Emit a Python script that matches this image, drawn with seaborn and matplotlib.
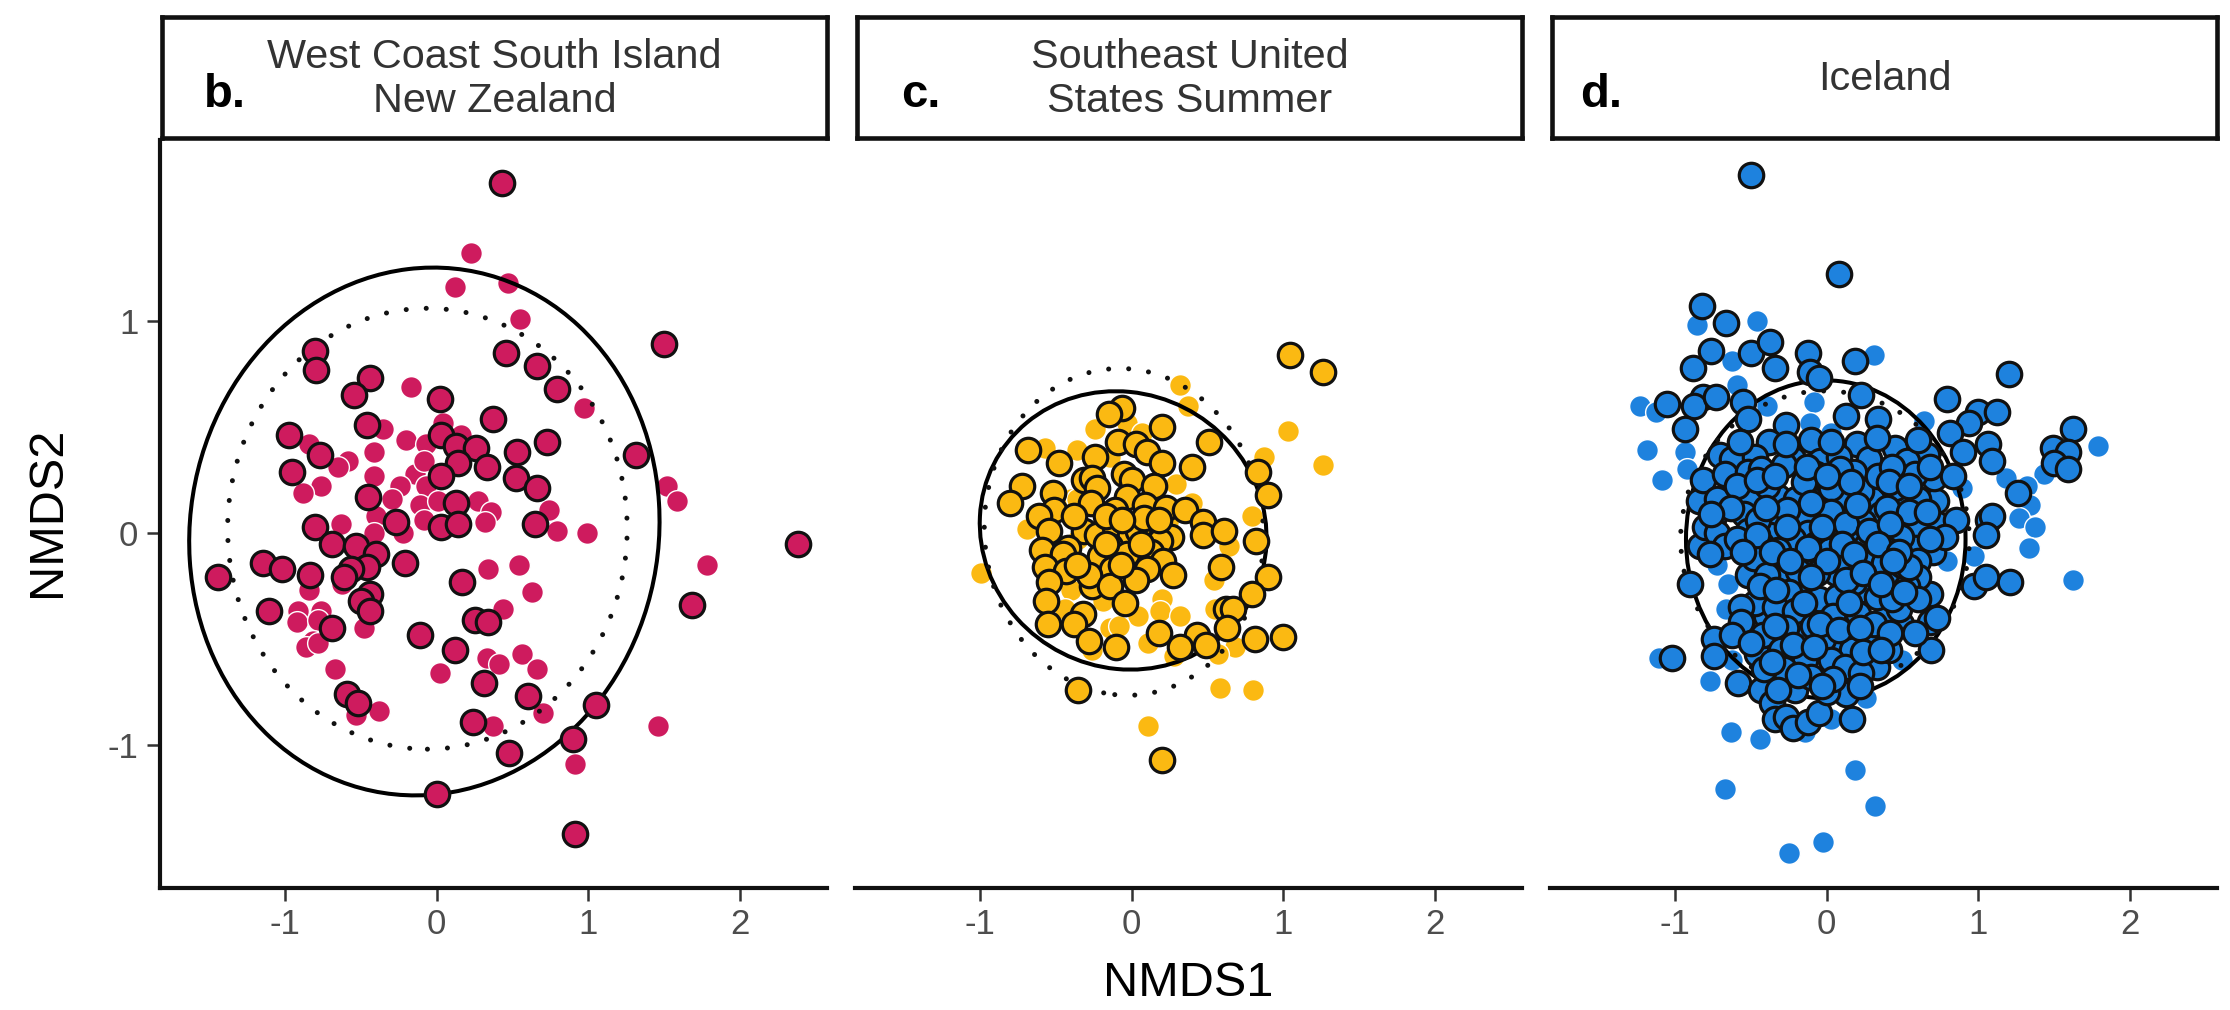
import numpy as np
import pandas as pd
import matplotlib
matplotlib.use("Agg")
import matplotlib.pyplot as plt
from matplotlib.patches import Ellipse
import seaborn as sns

W, H = 2230, 1010
PANEL_TAGS = ["b.", "c.", "d."]
PANEL_TITLES = ["West Coast South Island\nNew Zealand", "Southeast United\nStates Summer", "Iceland"]
X_TICKS = [-1, 0, 1, 2]
Y_TICKS = [-1, 0, 1]
X_LABEL = "NMDS1"
Y_LABEL = "NMDS2"
COLORS = ["#CE1B5E", "#FBB912", "#1E82DE"]

b_plain = [(0.23,1.32),(0.12,1.16),(0.47,1.18),(0.55,1.01),(0.97,0.59),(-0.17,0.69),(-0.35,0.49),(-0.20,0.44),(-0.07,0.42),
(0.04,0.52),(0.16,0.46),(-0.41,0.38),(-0.58,0.34),(-0.65,0.31),(-0.84,0.42),(-0.76,0.22),(-0.88,0.19),(-0.41,0.27),
(-0.14,0.28),(-0.24,0.22),(-0.08,0.34),(-0.07,0.22),(-0.29,0.16),(-0.11,0.13),(0.01,0.15),(0.27,0.15),(0.36,0.10),
(0.32,0.05),(-0.08,0.06),(-0.40,0.08),(-0.63,0.04),(-0.41,0.0),(-0.22,0.0),(0.74,0.11),(0.79,0.01),(0.99,0.0),
(1.52,0.22),(1.58,0.15),(1.78,-0.15),(0.34,-0.17),(0.54,-0.15),(0.63,-0.28),(0.44,-0.36),(-0.84,-0.27),(-0.62,-0.24),
(-0.91,-0.37),(-0.76,-0.37),(-0.92,-0.42),(-0.78,-0.41),(-0.48,-0.45),(-0.81,-0.51),(-0.86,-0.54),(-0.78,-0.52),
(-0.67,-0.64),(-0.38,-0.84),(-0.53,-0.86),(0.02,-0.66),(0.33,-0.59),(0.41,-0.62),(0.56,-0.57),(0.66,-0.64),(0.70,-0.85),
(0.37,-0.91),(1.46,-0.91),(0.91,-1.09)]
b_ringed = [(0.43,1.65),(-0.80,0.86),(-0.79,0.77),(-0.44,0.73),(-0.54,0.65),(0.46,0.85),(0.66,0.79),(0.79,0.68),(1.50,0.89),
(0.02,0.63),(0.37,0.54),(-0.46,0.51),(-0.97,0.46),(-0.77,0.37),(-0.95,0.29),(0.03,0.46),(0.13,0.41),(0.26,0.40),(0.14,0.33),
(0.33,0.31),(0.03,0.27),(0.53,0.38),(0.73,0.43),(0.52,0.26),(0.66,0.21),(1.31,0.37),(-0.45,0.17),(0.13,0.14),(-0.80,0.03),
(-0.27,0.05),(0.03,0.03),(0.14,0.04),(0.65,0.04),(-0.69,-0.05),(-0.53,-0.06),(-0.40,-0.10),(-0.21,-0.14),(-0.46,-0.16),
(-0.56,-0.17),(-0.61,-0.21),(-1.14,-0.14),(-1.02,-0.17),(-0.83,-0.20),(-1.44,-0.21),(0.17,-0.23),(-0.44,-0.29),(-0.50,-0.32),
(-0.44,-0.37),(-1.10,-0.37),(-0.69,-0.45),(0.25,-0.41),(0.34,-0.42),(-0.11,-0.48),(0.12,-0.55),(0.31,-0.71),(1.68,-0.34),
(2.38,-0.05),(-0.59,-0.76),(-0.52,-0.80),(0.60,-0.77),(0.24,-0.89),(0.48,-1.04),(1.05,-0.81),(0.90,-0.97),(0.0,-1.23),(0.91,-1.42)]

c_plain = [(0.32,0.70),(0.37,0.60),(-0.24,0.49),(-0.03,0.52),(-0.57,0.40),(-0.36,0.39),(1.03,0.48),(1.26,0.32),(0.87,0.36),
(0.29,0.23),(-0.40,0.16),(0.40,0.14),(0.79,0.08),(-0.69,0.02),(0.64,-0.06),(-0.99,-0.19),(0.54,-0.22),(-0.40,-0.27),
(-0.19,-0.32),(0.20,-0.31),(0.19,-0.37),(0.32,-0.39),(0.04,-0.39),(-0.44,-0.36),(-0.14,-0.45),(-0.08,-0.44),(0.11,-0.52),
(-0.26,-0.55),(0.68,-0.54),(0.57,-0.57),(0.28,-0.58),(0.55,-0.36),(0.58,-0.73),(0.80,-0.74),(0.11,-0.91),(-0.36,0.16),(0.07,0.47),
(-0.14,0.36),(0.24,0.05),(-0.35,-0.03),(0.02,-0.14)]
c_ringed = [(1.04,0.84),(1.26,0.76),(-0.06,0.59),(-0.15,0.56),(0.20,0.50),(0.51,0.43),(-0.68,0.39),(-0.09,0.43),(0.03,0.42),
(0.10,0.38),(0.20,0.33),(-0.48,0.33),(-0.24,0.36),(0.40,0.31),(0.83,0.29),(-0.05,0.28),(-0.31,0.25),(-0.26,0.26),(0.0,0.25),
(-0.23,0.21),(0.15,0.22),(-0.72,0.22),(-0.52,0.19),(0.90,0.18),(-0.03,0.17),(-0.80,0.14),(-0.27,0.14),(-0.51,0.11),(-0.11,0.11),
(0.09,0.13),(0.23,0.12),(0.35,0.11),(-0.61,0.08),(0.47,0.05),(0.47,-0.01),(0.61,0.01),(0.82,-0.04),(-0.54,0.01),(-0.31,0.01),
(-0.23,-0.01),(-0.11,0.03),(-0.01,-0.01),(0.04,0.01),(0.26,-0.02),(0.19,-0.04),(-0.59,-0.08),(-0.42,-0.07),(-0.45,-0.10),
(-0.14,-0.06),(-0.21,-0.11),(-0.03,-0.10),(0.13,-0.09),(0.21,-0.13),(-0.13,-0.17),(-0.57,-0.16),(-0.43,-0.18),(0.59,-0.16),
(0.10,-0.17),(0.27,-0.20),(0.03,-0.22),(0.90,-0.21),(-0.54,-0.23),(-0.26,-0.25),(-0.28,-0.20),(-0.14,-0.25),(-0.56,-0.32),
(-0.04,-0.33),(0.79,-0.29),(0.62,-0.36),(0.67,-0.36),(-0.32,-0.38),(-0.55,-0.43),(-0.38,-0.43),(0.63,-0.45),(0.18,-0.47),
(0.43,-0.48),(-0.28,-0.51),(-0.10,-0.54),(0.32,-0.54),(0.49,-0.53),(0.81,-0.50),(1.00,-0.49),(-0.35,-0.74),(0.20,-1.07),
(-0.17,0.08),(0.08,0.07),(-0.36,-0.15),(-0.07,-0.15),(0.18,0.06),(-0.38,0.08),(0.06,-0.05),(-0.17,-0.05),(-0.06,0.06)]

d_plain = [(-1.23,0.60),(-1.12,0.57),(-1.18,0.39),(-1.08,0.25),(-0.85,0.98),(-0.46,1.00),(-0.62,0.81),(0.31,0.84),(-0.59,0.70),
(-0.08,0.62),(-0.39,0.60),(0.64,0.53),(-0.93,0.38),(-0.92,0.30),(1.79,0.41),(1.43,0.28),(1.32,0.22),(1.18,0.26),(1.34,0.13),
(1.27,0.07),(1.37,0.03),(1.33,-0.07),(1.62,-0.22),(0.79,-0.13),(0.97,-0.11),(-0.72,-0.15),(-0.65,-0.24),(-0.66,-0.36),
(-1.10,-0.59),(-0.62,-0.60),(-0.77,-0.70),(-0.63,-0.94),(-0.44,-0.97),(-0.67,-1.21),(0.19,-1.12),(0.32,-1.29),(-0.02,-1.46),
(-0.25,-1.51),(0.26,-0.78),(0.03,-0.88),(-0.14,-0.94),(0.50,-0.60),(-0.11,0.52),(0.03,0.47),(0.89,0.21)]
d_ringed = [(-0.50,1.69),(0.08,1.22),(-0.82,1.07),(-0.66,0.99),(-0.76,0.86),(-0.88,0.78),(-0.50,0.85),(-0.37,0.90),(-0.34,0.78),
(-0.12,0.85),(-0.11,0.76),(-0.05,0.73),(0.19,0.81),(1.20,0.75),(0.79,0.63),(0.23,0.65),(-1.05,0.61),(-0.81,0.64),(-0.87,0.60),
(-0.73,0.64),(-0.55,0.62),(-0.93,0.49),(-0.52,0.54),(-0.27,0.51),(0.13,0.55),(0.34,0.54),(1.00,0.57),(1.12,0.57),(0.94,0.52),
(0.81,0.47),(1.62,0.49),(1.49,0.40),(1.59,0.38),(1.50,0.33),(1.59,0.30),(1.06,0.42),(1.09,0.34),(0.90,0.38),(0.66,0.37),
(0.45,0.40),(0.20,0.42),(-0.10,0.44),(-0.38,0.43),(-0.70,0.37),(1.26,0.19),(1.06,0.06),(1.09,0.08),(1.05,-0.01),(1.21,-0.23),
(0.97,-0.25),(1.05,-0.21),(-0.90,-0.24),(-1.02,-0.59),(-0.83,-0.06),(-0.80,0.03),(-0.84,0.15),(-0.81,0.25),(-0.74,-0.50),
(-0.74,-0.58),(-0.58,-0.71),(-0.46,-0.57),(-0.43,-0.74),(-0.36,-0.80),(-0.34,-0.88),(-0.27,-0.87),(-0.22,-0.92),(-0.12,-0.89),
(-0.05,-0.85),(0.17,-0.88),(0.13,-0.76),(0.0,-0.75),(-0.21,-0.74),(0.33,-0.63),(0.41,-0.55),(0.69,-0.55),(0.68,-0.42),(0.73,-0.40),
(0.68,-0.29),(0.70,-0.09),(0.72,0.15),(0.71,0.26),(0.73,0.04),(0.85,0.06),(0.49,-0.43),(0.48,-0.02),(0.47,0.13),(0.45,0.21),
(-0.62,0.35),(-0.47,0.36),(-0.22,0.35),(-0.04,0.34),(0.08,0.36),(0.28,0.35),(0.53,0.34),(-0.67,0.28),(-0.52,0.29),(-0.07,0.28),
(0.18,0.29),(0.58,0.28),(0.83,0.27),(-0.72,0.16),(-0.50,0.15),(-0.32,0.17),(-0.20,0.16),(-0.07,0.15),(0.13,0.17),(0.30,0.16),
(0.60,0.16),(-0.74,0.08),(-0.54,0.09),(-0.34,0.07),(-0.14,0.08),(0.18,0.08),(0.36,0.09),(0.58,0.07),(-0.72,0.0),(-0.52,0.01),
(-0.37,-0.01),(-0.12,0.0),(0.06,0.01),(0.18,-0.01),(0.33,0.0),(0.60,0.01),(0.78,-0.02),(-0.67,-0.06),(-0.22,-0.07),(-0.07,-0.05),
(0.26,-0.06),(0.58,-0.07),(-0.32,-0.13),(-0.14,-0.12),(0.23,-0.14),(0.28,-0.11),(0.60,-0.13),(-0.52,-0.20),(-0.30,-0.21),(0.06,-0.19),
(0.30,-0.22),(0.43,-0.20),(0.60,-0.21),(-0.14,-0.26),(0.23,-0.27),(0.53,-0.25),(-0.40,-0.39),(-0.12,-0.37),(0.40,-0.38),(0.48,-0.36),
(-0.17,-0.50),(0.06,-0.51),(0.28,-0.49),
(-0.59,0.22),(-0.39,0.22),(-0.28,0.32),(-0.15,0.24),(0.09,0.30),(0.03,0.21),(0.23,0.20),(0.34,0.27),(-0.63,0.12),(-0.26,0.11),
(-0.45,0.06),(0.03,0.10),(0.24,0.05),(0.13,0.04),(-0.59,-0.03),(-0.43,-0.05),(-0.22,-0.03),(0.02,-0.08),(-0.32,-0.08),(0.49,-0.02),
(0.40,-0.08),(-0.48,-0.12),(0.12,-0.14),(-0.19,-0.18),(-0.06,-0.19),(-0.39,-0.20),(0.18,-0.23),(0.50,-0.15),(0.38,-0.14),(0.54,-0.16),
(-0.25,-0.28),(-0.05,-0.31),(0.33,-0.30),(0.07,-0.30),(0.43,-0.31),(0.21,-0.38),(0.04,-0.39),(-0.47,-0.33),(-0.34,-0.35),(-0.56,-0.35),
(-0.56,-0.42),(-0.21,-0.37),(-0.27,-0.45),(-0.09,-0.44),(0.31,-0.43),(0.14,-0.47),(-0.42,-0.48),(-0.02,-0.50),(-0.30,-0.55),(0.17,-0.55),
(0.03,-0.60),(-0.14,-0.60),(0.12,-0.63),(0.23,-0.66),(-0.28,-0.64),(-0.10,-0.68),(-0.41,-0.64),
(-0.57,0.43),(-0.27,0.42),(0.03,0.43),(0.33,0.45),(0.60,0.44),(-0.43,0.30),(-0.13,0.31),(0.43,0.31),(0.68,0.31),
(-0.76,0.09),(-0.46,0.25),(-0.34,0.27),(0.0,0.27),(0.16,0.24),(0.41,0.24),(0.54,0.22),(-0.77,-0.10),(-0.40,0.12),(-0.10,0.14),(0.20,0.13),(0.40,0.12),
(0.54,0.10),(0.66,0.10),(-0.46,-0.01),(-0.26,0.03),(-0.03,0.03),(0.28,0.01),(0.42,0.04),(0.68,-0.03),(-0.55,-0.09),(-0.36,-0.09),(-0.12,-0.07),(0.10,-0.05),
(0.34,-0.05),(0.48,-0.09),(-0.24,-0.13),(0.0,-0.13),(0.18,-0.10),(0.44,-0.13),(-0.44,-0.25),(-0.33,-0.27),(-0.10,-0.21),(0.13,-0.22),(0.24,-0.19),(0.36,-0.24),(0.60,-0.31),
(-0.15,-0.33),(0.15,-0.33),(0.51,-0.28),(-0.62,-0.48),(-0.50,-0.52),(-0.34,-0.44),(-0.04,-0.43),(0.08,-0.46),(0.22,-0.45),(0.42,-0.47),(0.58,-0.47),
(-0.22,-0.53),(-0.08,-0.54),(0.24,-0.56),(0.36,-0.55),(-0.36,-0.61),(-0.19,-0.67),(0.04,-0.69),(-0.03,-0.72),(0.22,-0.72),(-0.32,-0.74)]

# (centre x, centre y, width, height, tilt in degrees)
solid_ellipses = [(-0.08,0.007,3.10,2.485,5.0),(-0.055,0.012,1.89,1.31,-4.0),(-0.005,-0.03,1.84,1.50,0.0)]
dotted_ellipses = [(-0.06,0.02,2.63,2.08,0.0),(-0.05,0.005,1.84,1.54,-4.5),(-0.01,-0.03,1.90,1.40,0.0)]

XLIM = (-1.82, 2.57)
YLIM = (-1.675, 1.854)
PANEL_LEFT = [160, 855, 1550]
PANEL_WIDTH = 667
TAG_X = [204, 901, 1580]

sns.set_theme(style="ticks")
plt.rcParams["font.family"] = ["Liberation Sans", "DejaVu Sans"]
plt.rcParams["axes.unicode_minus"] = False

fig = plt.figure(figsize=(W / 100, H / 100), dpi=100, facecolor="white")


def frac(x0, y0, x1, y1):
    return [x0 / W, 1 - y1 / H, (x1 - x0) / W, (y1 - y0) / H]


panels = [(b_plain, b_ringed), (c_plain, c_ringed), (d_plain, d_ringed)]
for i, (plain, ringed) in enumerate(panels):
    left = PANEL_LEFT[i]
    ax = fig.add_axes(frac(left, 140, left + PANEL_WIDTH, 888))
    dfp = pd.DataFrame(plain, columns=["x", "y"])
    dfr = pd.DataFrame(ringed, columns=["x", "y"])
    sns.scatterplot(data=dfp, x="x", y="y", ax=ax, s=245, color=COLORS[i], edgecolor="white",
                    linewidth=1.0, legend=False, zorder=2, clip_on=False)
    sx, sy, sw, sh, sa = solid_ellipses[i]
    ax.add_patch(Ellipse((sx, sy), sw, sh, angle=sa, fill=False, ec="black", lw=2.9, zorder=3))
    dx, dy, dw, dh, da = dotted_ellipses[i]
    ax.add_patch(Ellipse((dx, dy), dw, dh, angle=da, fill=False, ec="#111111", lw=3.6,
                         ls=(0, (0.01, 4.0)), capstyle="round", zorder=3))
    sns.scatterplot(data=dfr, x="x", y="y", ax=ax, s=310, color=COLORS[i], edgecolor="#111111",
                    linewidth=2.3, legend=False, zorder=4, clip_on=False)
    ax.set_xlim(*XLIM)
    ax.set_ylim(*YLIM)
    ax.set_xticks(X_TICKS)
    ax.set_xlabel("")
    ax.set_ylabel("")
    ax.tick_params(axis="x", length=9.5, width=1.8, color="#333333", labelsize=25, labelcolor="#4d4d4d", pad=5)
    if i == 0:
        ax.set_yticks(Y_TICKS)
        ax.tick_params(axis="y", length=9.5, width=1.8, color="#333333", labelsize=25, labelcolor="#4d4d4d", pad=6)
    else:
        ax.set_yticks([])
        ax.spines["left"].set_visible(False)
    for s in ["top", "right"]:
        ax.spines[s].set_visible(False)
    for s in ["left", "bottom"]:
        ax.spines[s].set_linewidth(3.0)
        ax.spines[s].set_color("#111111")

    strip = fig.add_axes(frac(left + 2, 17, left + PANEL_WIDTH, 138))
    strip.set_xticks([])
    strip.set_yticks([])
    strip.set_facecolor("white")
    for s in strip.spines.values():
        s.set_linewidth(3.3)
        s.set_color("#111111")
    strip.text(0.5, 0.49, PANEL_TITLES[i], transform=strip.transAxes, ha="center", va="center",
               fontsize=29.8, color="#333333", linespacing=1.2)
    fig.text(TAG_X[i] / W, 1 - 107 / H, PANEL_TAGS[i], ha="left", va="baseline",
             fontsize=34, fontweight="bold", color="black")

fig.text(1188 / W, 1 - 983 / H, X_LABEL, ha="center", va="center", fontsize=35, color="black")
fig.text(47 / W, 1 - 512 / H, Y_LABEL, ha="center", va="center", rotation=90, fontsize=35, color="black")

fig.savefig("out.png", dpi=100, facecolor="white")
